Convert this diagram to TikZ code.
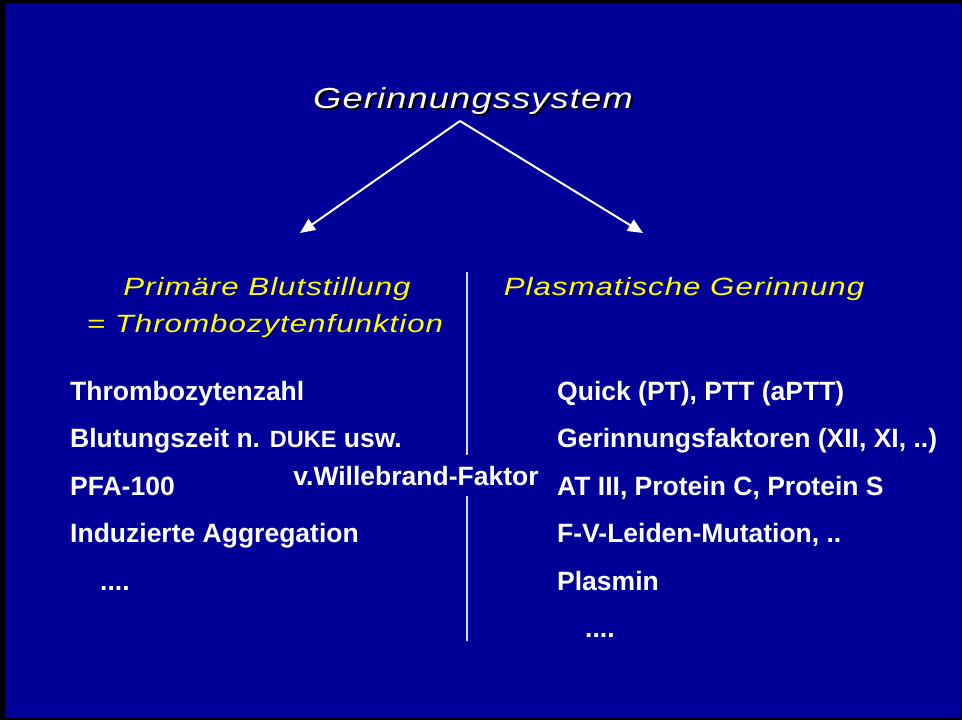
\documentclass[tikz,border=0pt]{standalone}
\usepackage{fontspec}
\setmainfont{Liberation Sans}
\newfontfamily\widefont[FakeStretch=1.25, LetterSpace=4]{Liberation Sans}
\usetikzlibrary{arrows.meta}
\definecolor{slideblue}{RGB}{0,0,153}
\definecolor{headyellow}{RGB}{255,255,0}
\tikzset{
	titletext/.style={anchor=base, inner sep=0pt, text=white, font=\widefont\itshape\fontsize{29}{29}\selectfont},
	heading/.style={anchor=base, inner sep=0pt, text=headyellow, font=\widefont\itshape\fontsize{25}{25}\selectfont},
	item/.style={anchor=base west, inner sep=0pt, text=white, font=\bfseries\fontsize{26.5}{26.5}\selectfont},
	linkarrow/.style={draw=white, line width=2pt, -{Triangle[length=15pt,width=13pt]}},
	divider/.style={draw=white!85!slideblue, line width=1.8pt}
}

\begin{document}
\begin{tikzpicture}[x=1pt, y=-1pt]
			%%%%% START %%%%%
			
			\useasboundingbox (0, 0) rectangle (962, 720);
			\fill[black] (0, 0) rectangle (962, 720);
			\fill[slideblue] (5, 3) rectangle (961, 718);
			
			\node[titletext, text=black] (titleshadow) at (475, 110) {Gerinnungssystem};
			\node[titletext] (title) at (473, 108) {Gerinnungssystem};
			
			\coordinate (apex) at (460, 121);
			\coordinate (lefttip) at (300, 233);
			\coordinate (righttip) at (643, 233);
			\draw[linkarrow] (apex) -- (lefttip);
			\draw[linkarrow] (apex) -- (righttip);
			
			\node[heading] (primaer) at (267, 295) {Primäre Blutstillung};
			\node[heading] (thrombo) at (265, 332) {= Thrombozytenfunktion};
			\node[heading] (plasma) at (684, 295) {Plasmatische Gerinnung};
			
			\node[item] (zahl) at (70, 400) {Thrombozytenzahl};
			\node[item] (blutung) at (70, 447) {Blutungszeit n. {\fontsize{23.5}{23.5}\selectfont DUKE} usw.};
			\node[item] (pfa) at (70, 495) {PFA-100};
			\node[item] (aggreg) at (70, 542) {Induzierte Aggregation};
			\node[item] (ldots) at (100, 590) {....};
			
			\node[item, anchor=base, inner ysep=11pt] (vwf) at (416, 485) {v.Willebrand-Faktor};
			
			\coordinate (divtop) at (467, 272);
			\coordinate (divbot) at (467, 641);
			\draw[divider] (divtop) -- (divtop |- vwf.north);
			\draw[divider] (divtop |- vwf.south) -- (divbot);
			
			\node[item] (quick) at (557, 400) {Quick (PT), PTT (aPTT)};
			\node[item] (faktoren) at (557, 447) {Gerinnungsfaktoren (XII, XI, ..)};
			\node[item] (at) at (557, 495) {AT III, Protein C, Protein S};
			\node[item] (leiden) at (557, 542) {F-V-Leiden-Mutation, ..};
			\node[item] (plasmin) at (557, 590) {Plasmin};
			\node[item] (rdots) at (585, 637) {....};
			
			%%%%% END %%%%%
\end{tikzpicture}
\end{document}
